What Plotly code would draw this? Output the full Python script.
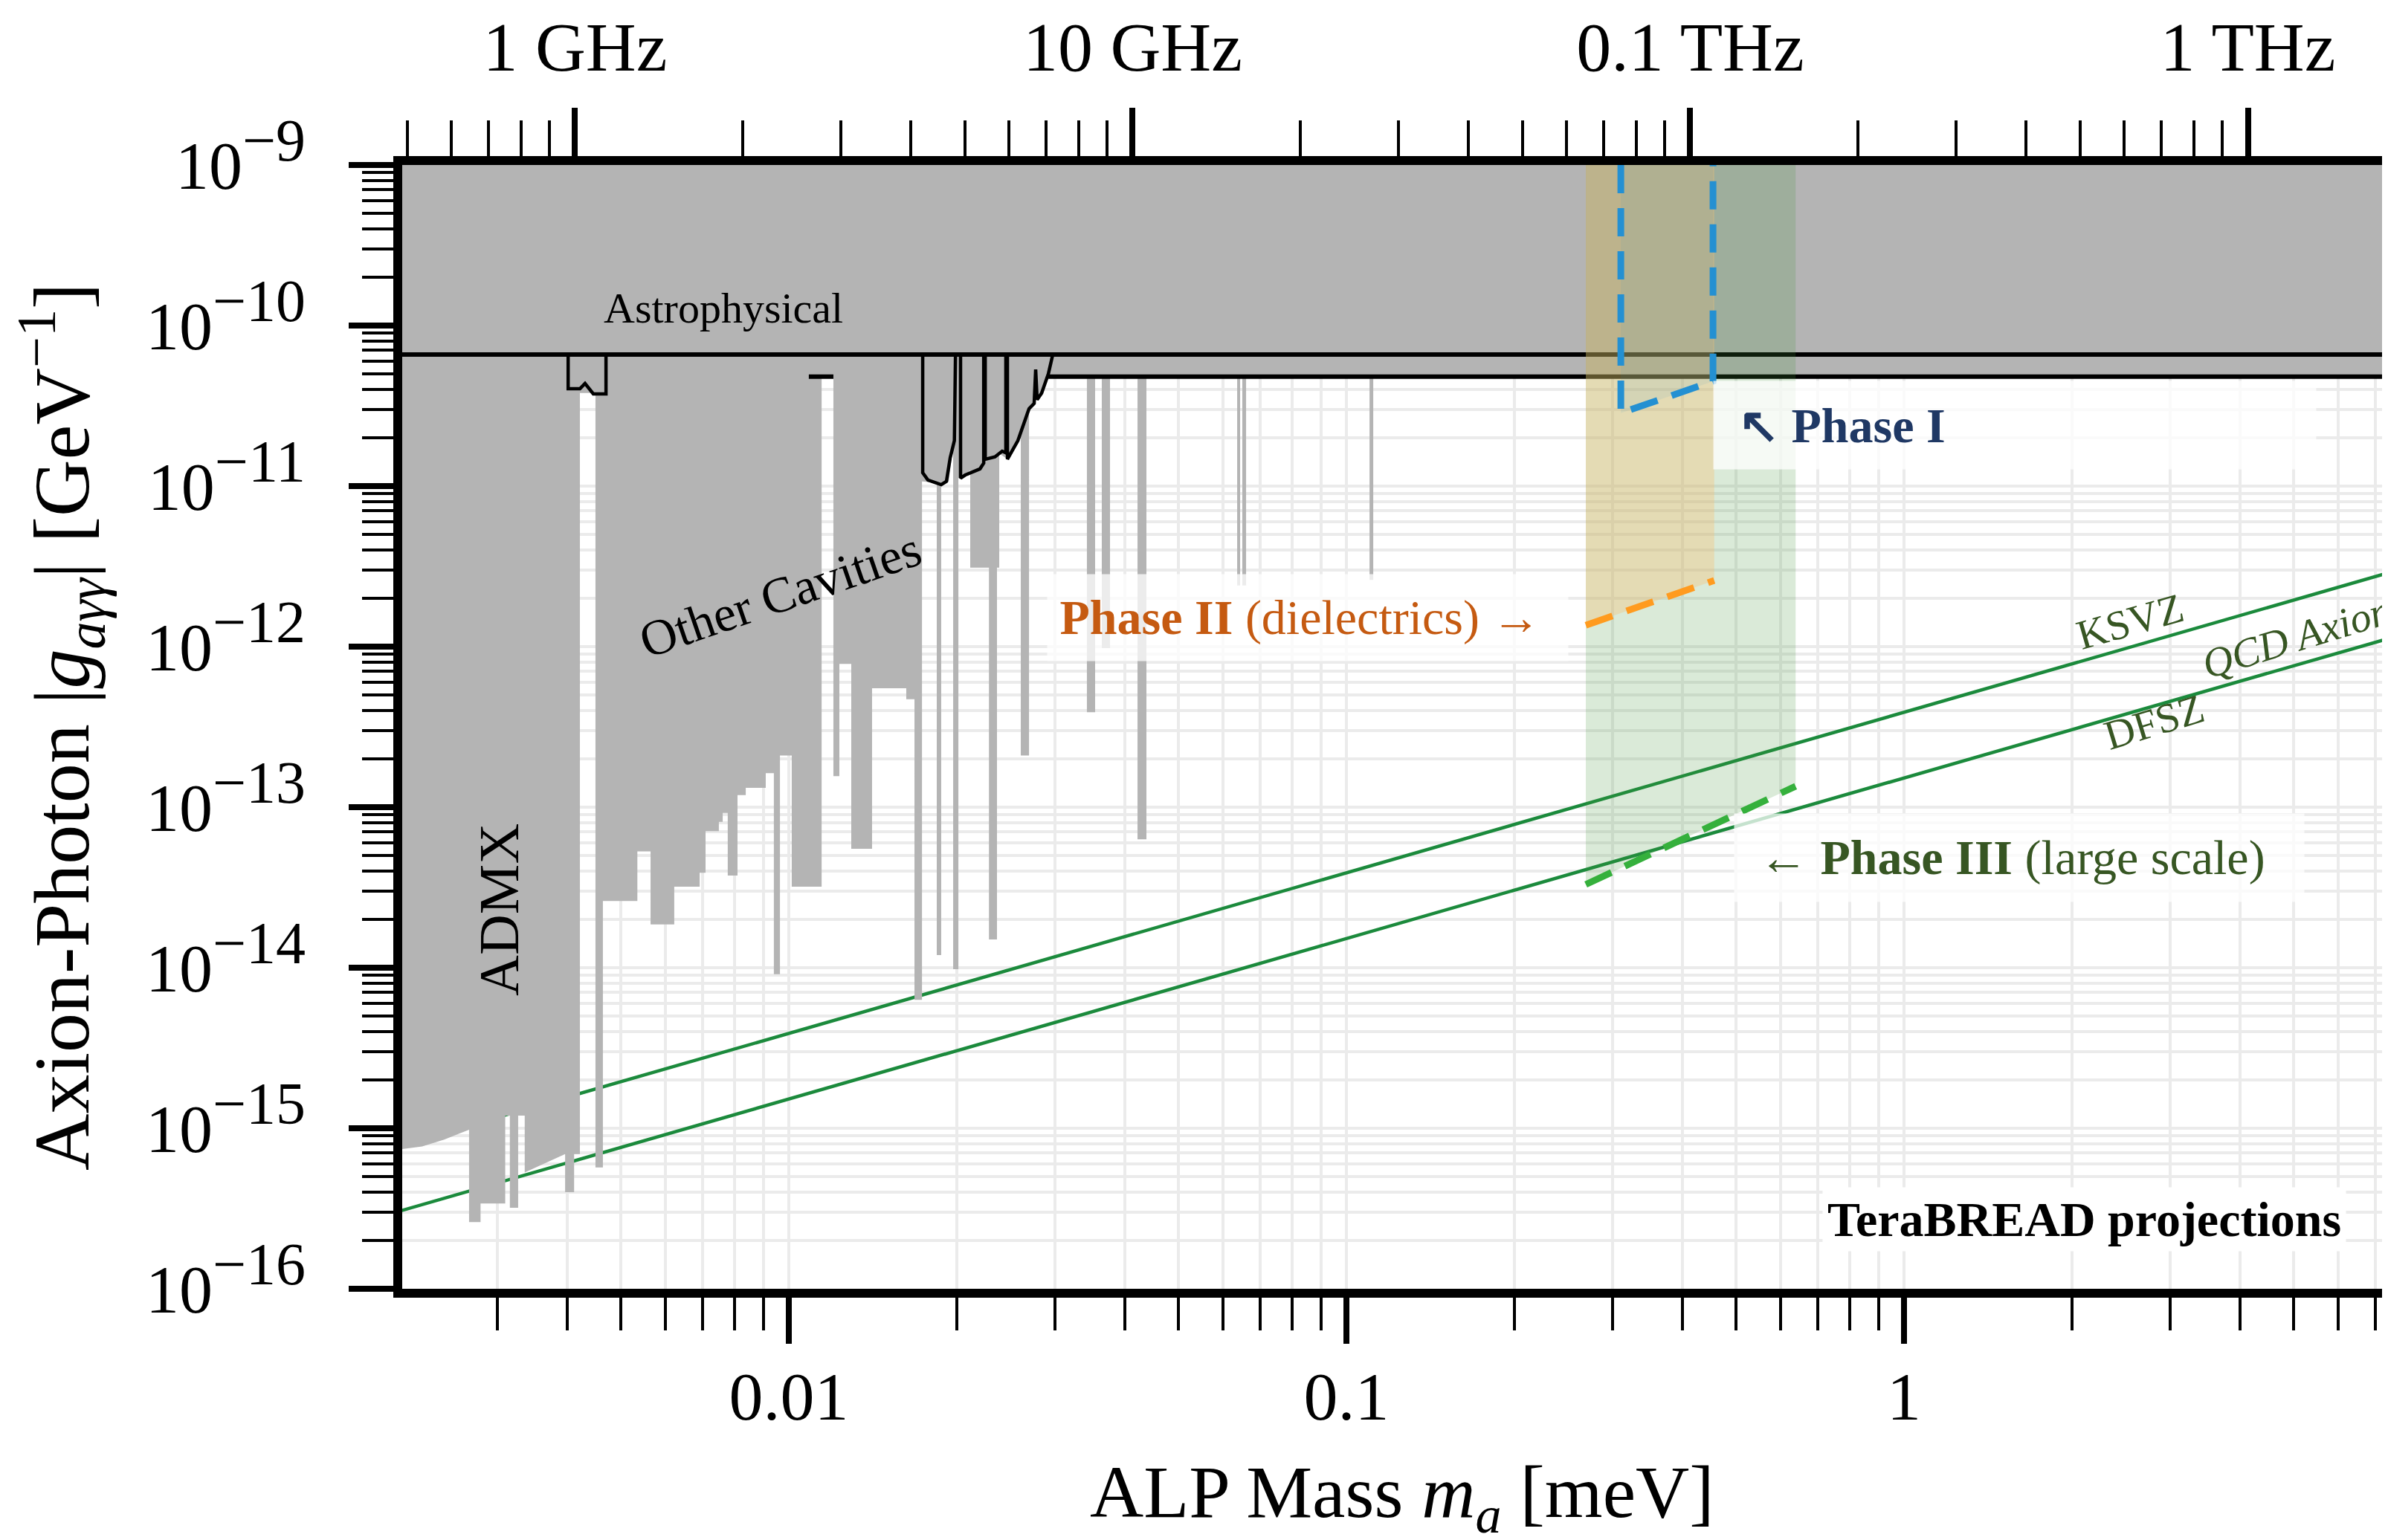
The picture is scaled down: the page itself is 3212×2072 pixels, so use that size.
import math
import plotly.graph_objects as go

# ---------------- data (meV, GeV^-1) ----------------
x_lo, x_hi = 0.002026, 7.56
g_lo, g_hi = 1e-16, 1e-9
ghz_in_meV = 0.0041357

qcd_mass = [0.001, 10.0]
ksvz_g = [3.9e-16, 3.9e-12]
dfsz_g = [1.52e-16, 1.52e-12]

astro_limit = 6.6e-11
cast_lower = 4.8e-11

# haloscope exclusion: lower edge of the grey region (left -> right)
admx_edge = [
    (0.0019, 7.2e-16), (0.00220, 7.7e-16), (0.00241, 8.5e-16), (0.00267, 9.8e-16),
    (0.00267, 2.6e-16), (0.00280, 2.6e-16), (0.00280, 3.4e-16), (0.00310, 3.4e-16),
    (0.00310, 1.2e-15), (0.00316, 1.2e-15), (0.00316, 3.2e-16), (0.00327, 3.2e-16),
    (0.00327, 1.2e-15), (0.00336, 1.2e-15), (0.00336, 5.3e-16), (0.00397, 6.9e-16),
    (0.00397, 4.0e-16), (0.00412, 4.0e-16), (0.00412, 6.9e-16), (0.00422, 6.9e-16),
    (0.00422, 3.8e-11), (0.00450, 3.8e-11), (0.00450, 5.7e-16), (0.00464, 5.7e-16),
]
cavity_edge = [
    (0.00464, 2.6e-14), (0.00535, 2.6e-14), (0.00535, 5.3e-14), (0.00565, 5.3e-14),
    (0.00565, 1.86e-14), (0.00623, 1.86e-14), (0.00623, 3.2e-14), (0.00692, 3.2e-14),
    (0.00692, 3.9e-14), (0.00709, 3.9e-14), (0.00709, 7.1e-14), (0.00749, 7.1e-14),
    (0.00749, 8.1e-14), (0.00761, 8.1e-14), (0.00761, 9.2e-14), (0.00777, 9.2e-14),
    (0.00777, 3.75e-14), (0.00809, 3.75e-14), (0.00809, 1.19e-13), (0.00837, 1.19e-13),
    (0.00837, 1.32e-13), (0.00909, 1.32e-13), (0.00909, 1.63e-13), (0.00940, 1.63e-13),
    (0.00940, 9.1e-15), (0.00964, 9.1e-15), (0.00964, 2.1e-13), (0.01012, 2.1e-13),
    (0.01012, 3.2e-14), (0.01145, 3.2e-14), (0.01145, 4.8e-11), (0.01202, 4.8e-11),
    (0.01202, 1.56e-13), (0.01232, 1.56e-13), (0.01232, 7.8e-13), (0.01294, 7.8e-13),
    (0.01294, 5.5e-14), (0.01410, 5.5e-14), (0.01410, 5.5e-13), (0.01624, 5.5e-13),
    (0.01624, 4.7e-13), (0.01680, 4.7e-13), (0.01680, 6.3e-15), (0.01733, 6.3e-15),
]
bump_edge = [
    (0.01733, 1.07e-11), (0.01842, 1.05e-11), (0.01842, 1.2e-14), (0.01876, 1.2e-14),
    (0.01876, 1.04e-11), (0.01935, 1.07e-11), (0.01971, 1.8e-11), (0.01971, 9.8e-15),
    (0.02014, 9.8e-15), (0.02014, 1.12e-11), (0.02070, 1.17e-11), (0.02115, 1.25e-11),
    (0.02115, 3.1e-12), (0.02285, 3.1e-12), (0.02285, 1.5e-14), (0.02362, 1.5e-14),
    (0.02362, 3.1e-12), (0.02384, 3.1e-12), (0.02384, 1.6e-11), (0.02466, 1.47e-11),
    (0.02575, 1.92e-11), (0.02606, 2.0e-11), (0.02606, 2.1e-13), (0.02696, 2.1e-13),
    (0.02696, 3.03e-11), (0.02840, 3.79e-11), (0.02920, 4.8e-11),
]
narrow_edge = [
    (0.03424, 4.8e-11), (0.03424, 3.9e-13), (0.03542, 3.9e-13), (0.03542, 4.8e-11),
    (0.03641, 4.8e-11), (0.03641, 9.8e-13), (0.03767, 9.8e-13), (0.03767, 4.8e-11),
    (0.04220, 4.8e-11), (0.04220, 6.3e-14), (0.04378, 6.3e-14), (0.04378, 4.8e-11),
    (0.06368, 4.8e-11), (0.06368, 2.4e-12), (0.06446, 2.4e-12), (0.06446, 4.8e-11),
    (0.06505, 4.8e-11), (0.06505, 2.4e-12), (0.06607, 2.4e-12), (0.06607, 4.8e-11),
    (0.1100, 4.8e-11), (0.1100, 2.6e-12), (0.1117, 2.6e-12), (0.1117, 4.8e-11),
    (10.0, 4.8e-11),
]

# black outlines of individual cavity results
notch_outline = [(0.00402, 6.6e-11), (0.00402, 4.04e-11), (0.00422, 4.04e-11),
                 (0.00431, 4.36e-11), (0.00446, 3.75e-11), (0.00470, 3.75e-11),
                 (0.00470, 6.6e-11)]
bump_outlines = [
    [(0.01738, 6.6e-11), (0.01738, 1.21e-11), (0.01776, 1.09e-11), (0.01831, 1.05e-11),
     (0.01876, 1.02e-11), (0.01917, 1.07e-11), (0.01947, 1.5e-11), (0.01981, 1.92e-11),
     (0.01990, 6.6e-11)],
    [(0.02032, 6.6e-11), (0.02032, 1.12e-11), (0.02070, 1.17e-11), (0.02135, 1.22e-11),
     (0.02202, 1.28e-11), (0.02236, 1.39e-11), (0.02236, 6.6e-11)],
    [(0.02250, 6.6e-11), (0.02250, 1.47e-11), (0.02342, 1.52e-11), (0.02413, 1.65e-11),
     (0.02450, 1.61e-11), (0.02450, 6.6e-11)],
    [(0.02466, 6.6e-11), (0.02466, 1.47e-11), (0.02575, 1.92e-11), (0.02696, 3.03e-11),
     (0.02754, 3.27e-11), (0.02771, 5.33e-11), (0.02788, 3.45e-11), (0.02840, 3.79e-11),
     (0.02920, 5.0e-11), (0.02974, 6.6e-11)],
]
cast_lower_spans = [(0.02920, 10.0), (0.01086, 0.01202)]

# TeraBREAD projections
phase1_mass = [0.3105, 0.3105, 0.4543, 0.4543]
phase1_g = [1e-9, 2.85e-11, 4.5e-11, 1e-9]
phase2_mass = [0.2687, 0.4566]
phase2_g = [1.36e-12, 2.58e-12]
phase3_mass = [0.2687, 0.639]
phase3_g = [3.3e-14, 1.35e-13]

top_ticks_ghz = [1, 10, 100, 1000]
top_tick_text = ["1 GHz", "10 GHz", "0.1 THz", "1 THz"]
bottom_ticks = [0.01, 0.1, 1]
bottom_tick_text = ["0.01", "0.1", "1"]
y_ticks = [10.0 ** e for e in range(-16, -8)]
y_tick_text = ["10<sup><span style='font-size:80px'>\u2212%d</span></sup>" % (-e)
               for e in range(-16, -8)]

# ---------------- figure ----------------
FONT = "Liberation Serif"
GREY = "#b4b4b4"
TOP = 1.3e-9
fig = go.Figure()

def line(x, y, color, width, dash=None, **kw):
    fig.add_trace(go.Scatter(x=x, y=y, mode="lines", hoverinfo="skip",
                             line=dict(color=color, width=width, dash=dash), **kw))

# QCD axion lines
line(qcd_mass, ksvz_g, "#1b8a3c", 4.5)
line(qcd_mass, dfsz_g, "#1b8a3c", 4.5)

# grey exclusion region (astrophysical + haloscopes)
edge = admx_edge + cavity_edge + bump_edge + narrow_edge
poly = [(edge[0][0], TOP)] + edge + [(edge[-1][0], TOP)]
fig.add_trace(go.Scatter(x=[p[0] for p in poly], y=[p[1] for p in poly], mode="lines",
                         fill="toself", fillcolor=GREY, line=dict(width=0, color=GREY),
                         hoverinfo="skip"))

# black lines
line([0.0019, 10.0], [astro_limit, astro_limit], "black", 6)
xs, ys = [], []
for a, b in cast_lower_spans:
    xs += [a, b, None]
    ys += [cast_lower, cast_lower, None]
line(xs, ys, "black", 6)
xs, ys = [], []
for seg in [notch_outline] + bump_outlines:
    xs += [p[0] for p in seg] + [None]
    ys += [p[1] for p in seg] + [None]
line(xs, ys, "black", 4.5)

# projection regions
def region(mass, g, color):
    fig.add_trace(go.Scatter(x=[mass[0]] + mass + [mass[-1]], y=[TOP] + g + [TOP],
                             mode="lines", fill="toself", fillcolor=color,
                             line=dict(width=0, color=color), hoverinfo="skip"))

region(phase3_mass, phase3_g, "rgba(70,150,60,0.20)")
region(phase2_mass, phase2_g, "rgba(250,190,110,0.34)")
region(phase1_mass[1:3], phase1_g[1:3], "rgba(31,142,208,0.08)")

line(phase1_mass, phase1_g, "#2490d2", 9, dash="38px,20px")
line(phase2_mass, phase2_g, "#ff9b1f", 9, dash="38px,20px")
line(phase3_mass, phase3_g, "#35b03c", 9, dash="38px,20px")

# invisible trace for the top frequency axis
fig.add_trace(go.Scatter(x=[1, 10], y=[1e-20, 1e-20], xaxis="x2", yaxis="y", mode="markers",
                         marker=dict(opacity=0), hoverinfo="skip"))

def L(v):
    return math.log10(v)

def minor_vals(e0, e1, lo, hi):
    return [k * 10.0 ** e for e in range(e0, e1) for k in range(2, 10) if lo <= k * 10.0 ** e <= hi]

grid = dict(showgrid=True, gridcolor="#ebebeb", gridwidth=4)
fig.update_layout(
    width=3212, height=2072, autosize=False,
    margin=dict(l=533, r=0, t=214, b=346, pad=0, autoexpand=False),
    plot_bgcolor="white", paper_bgcolor="white", showlegend=False,
    font=dict(family=FONT, color="black"),
    xaxis=dict(type="log", range=[L(x_lo), L(x_hi)], showline=True, linewidth=12,
               linecolor="black", ticks="outside", ticklen=62, tickwidth=8, tickcolor="black",
               tickmode="array", tickvals=bottom_ticks, ticktext=bottom_tick_text,
               tickfont=dict(size=92, family=FONT), ticklabelstandoff=-8, zeroline=False,
               automargin=False,
               minor=dict(ticks="outside", ticklen=44, tickwidth=3.5, tickcolor="black",
                          tickmode="array", tickvals=minor_vals(-3, 1, x_lo, x_hi),
                          showgrid=True, gridcolor="#ebebeb", gridwidth=4),
               **grid),
    xaxis2=dict(type="log", overlaying="x", side="top", anchor="y",
                range=[L(x_lo / ghz_in_meV), L(x_hi / ghz_in_meV)], showline=True,
                linewidth=12, linecolor="black", ticks="outside", ticklen=65, tickwidth=8,
                tickcolor="black", tickmode="array", tickvals=top_ticks_ghz,
                ticktext=top_tick_text, tickfont=dict(size=94, family=FONT),
                ticklabelstandoff=12, showgrid=False, zeroline=False, automargin=False,
                minor=dict(ticks="outside", ticklen=48, tickwidth=3.5, tickcolor="black",
                           tickmode="array",
                           tickvals=minor_vals(-1, 4, x_lo / ghz_in_meV, x_hi / ghz_in_meV),
                           showgrid=False)),
    yaxis=dict(type="log", range=[L(g_lo), L(g_hi)], showline=True, linewidth=12,
               linecolor="black", ticks="outside", ticklen=60, tickwidth=8, tickcolor="black",
               tickmode="array", tickvals=y_ticks, ticktext=y_tick_text,
               tickfont=dict(size=90, family=FONT), ticklabelstandoff=40, zeroline=False,
               automargin=False,
               minor=dict(ticks="outside", ticklen=42, tickwidth=3.5, tickcolor="black",
                          tickmode="array", tickvals=minor_vals(-16, -9, g_lo, g_hi),
                          showgrid=True, gridcolor="#ebebeb", gridwidth=4),
               **grid),
)

DG = "#375623"
BOX = "rgba(255,255,255,0.75)"
ann = [
    dict(x=L(0.00763), y=L(1.28e-10), text="Astrophysical", font=dict(size=58)),
    dict(x=L(0.00964), y=L(2.11e-12), text="Other Cavities", textangle=-19, font=dict(size=68)),
    dict(x=L(0.00302), y=L(2.3e-14), text="ADMX", textangle=-90, font=dict(size=76)),
    dict(x=L(2.54), y=L(1.44e-12), text="KSVZ", textangle=-16, font=dict(size=56, color=DG)),
    dict(x=L(5.06), y=L(1.15e-12), text="<i>QCD Axion</i>", textangle=-17,
         font=dict(size=56, color=DG)),
    dict(x=L(2.81), y=L(3.4e-13), text="DFSZ", textangle=-17, font=dict(size=56, color=DG)),
    dict(x=L(0.4543), y=L(2.4e-11), xanchor="left", width=810, height=118, align="left",
         bgcolor=BOX, borderpad=0, text="\u00a0\u00a0<b>\u2196 Phase I</b>",
         font=dict(size=66, color="#1F3864")),
    dict(x=L(0.02903), y=L(1.51e-12), xanchor="left", width=700, height=116, align="left",
         bgcolor=BOX, borderpad=0, text="\u00a0<b>Phase II</b> (dielectrics) \u2192",
         font=dict(size=66, color="#C55A11")),
    dict(x=L(0.4951), y=L(4.84e-14), xanchor="left", width=766, height=118, align="left",
         bgcolor=BOX, borderpad=0, text="\u00a0\u00a0<b>\u2190 Phase III</b> (large scale)",
         font=dict(size=66, color=DG)),
    dict(x=L(6.21), y=L(2.72e-16), xanchor="right", text="<b>TeraBREAD projections</b>",
         bgcolor="white", borderpad=6, font=dict(size=66)),
]
for a in ann:
    a.setdefault("xref", "x")
    a.setdefault("yref", "y")
    a.setdefault("xanchor", "center")
    a.setdefault("yanchor", "middle")
    a["showarrow"] = False
    a["font"].setdefault("family", FONT)
    a["font"].setdefault("color", "black")
    fig.add_annotation(**a)

# axis titles
fig.add_annotation(xref="paper", yref="paper", x=(74 - 533) / 2679, y=0.5, showarrow=False,
                   xanchor="center", yanchor="middle", textangle=-90,
                   text="Axion-Photon |<i>g</i><sub><i>a\u03b3\u03b3</i></sub>| [GeV<sup>\u22121</sup>]",
                   font=dict(size=106, family=FONT, color="black"))
fig.add_annotation(xref="paper", yref="paper", x=(1878 - 533) / 2679, y=(1732 - 2012) / 1512,
                   showarrow=False, xanchor="center", yanchor="middle",
                   text="ALP Mass <i>m<sub>a</sub></i> [meV]",
                   font=dict(size=100, family=FONT, color="black"))

fig.write_html("out.html")
